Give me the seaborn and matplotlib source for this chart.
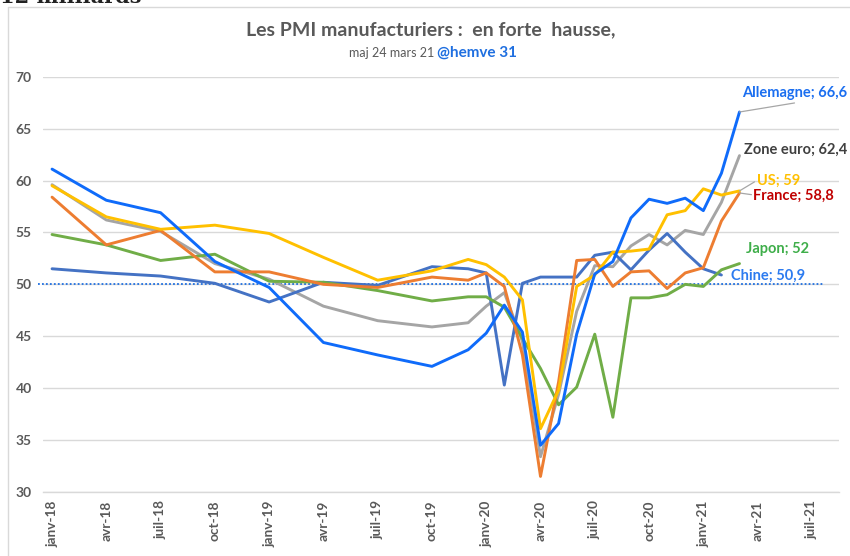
import matplotlib
matplotlib.use("Agg")
import matplotlib.pyplot as plt
import seaborn as sns
import pandas as pd
import numpy as np

# ---------------- data ----------------
dates = ["2018-01", "2018-04", "2018-07", "2018-10", "2019-01", "2019-04", "2019-07",
         "2019-10", "2019-12", "2020-01", "2020-02", "2020-03", "2020-04", "2020-05",
         "2020-06", "2020-07", "2020-08", "2020-09", "2020-10", "2020-11", "2020-12",
         "2021-01", "2021-02", "2021-03"]

allemagne = [61.1, 58.1, 56.9, 52.2, 49.7, 44.4, 43.2, 42.1, 43.7, 45.3, 48.0, 45.4,
             34.5, 36.6, 45.2, 51.0, 52.2, 56.4, 58.2, 57.8, 58.3, 57.1, 60.7, 66.6]
zone_euro = [59.6, 56.2, 55.1, 52.0, 50.5, 47.9, 46.5, 45.9, 46.3, 47.9, 49.2, 44.5,
             33.4, 39.4, 47.4, 51.8, 51.7, 53.7, 54.8, 53.8, 55.2, 54.8, 57.9, 62.4]
us = [59.5, 56.5, 55.3, 55.7, 54.9, 52.6, 50.4, 51.3, 52.4, 51.9, 50.7, 48.5,
      36.1, 39.8, 49.8, 50.9, 53.1, 53.2, 53.4, 56.7, 57.1, 59.2, 58.6, 59.0]
france = [58.4, 53.8, 55.2, 51.2, 51.2, 50.0, 49.7, 50.7, 50.4, 51.1, 49.8, 43.2,
          31.5, 40.6, 52.3, 52.4, 49.8, 51.2, 51.3, 49.6, 51.1, 51.6, 56.1, 58.8]
japon = [54.8, 53.8, 52.3, 52.9, 50.3, 50.2, 49.4, 48.4, 48.8, 48.8, 47.8, 44.8,
         41.9, 38.4, 40.1, 45.2, 37.2, 48.7, 48.7, 49.0, 50.0, 49.8, 51.4, 52.0]
chine = [51.5, 51.1, 50.8, 50.1, 48.3, 50.2, 49.9, 51.7, 51.5, 51.1, 40.3, 50.1,
         50.7, 50.7, 50.7, 52.8, 53.1, 51.4, 53.3, 54.9, 53.1, 51.5, 50.9, None]

series_names = ["Zone euro", "Chine", "Japon", "France", "US", "Allemagne"]
series_values = [zone_euro, chine, japon, france, us, allemagne]
end_labels = ["Zone euro; 62,4", "Chine; 50,9", "Japon; 52", "France; 58,8",
              "US; 59", "Allemagne; 66,6"]

tick_dates = ["2018-01", "2018-04", "2018-07", "2018-10", "2019-01", "2019-04",
              "2019-07", "2019-10", "2020-01", "2020-04", "2020-07", "2020-10",
              "2021-01", "2021-04", "2021-07"]
tick_labels = ["janv-18", "avr-18", "juil-18", "oct-18", "janv-19", "avr-19",
               "juil-19", "oct-19", "janv-20", "avr-20", "juil-20", "oct-20",
               "janv-21", "avr-21", "juil-21"]
ref_level = 50

# ---------------- styling ----------------
line_colors = {"Allemagne": "#0F6BFA", "Zone euro": "#A5A5A5", "US": "#FFC000",
               "France": "#ED7D31", "Japon": "#70AD47", "Chine": "#4472C4"}
label_colors = {"Allemagne": "#1A6EF0", "Zone euro": "#404040", "US": "#FFC000",
                "France": "#C00000", "Japon": "#3FAE4A", "Chine": "#2C7BF0"}
# label offsets (points) relative to last point, horizontal alignment
label_pos = {"Allemagne": ((77.8, 13.7), "right"),
             "Zone euro": ((77.8, 4.3), "right"),
             "US": ((12.5, 7.2), "left"),
             "France": ((10.0, -1.9), "left"),
             "Japon": ((5.0, 10.8), "left"),
             "Chine": ((7.2, -0.5), "left")}
leaders = {"Allemagne": (39.6, 6.5), "US": (10.8, 6.5), "France": (8.6, -1.2)}

base = pd.Period("2018-01", freq="M")


def to_m(d):
    return (pd.Period(d, freq="M") - base).n


rows = []
for name, vals in zip(series_names, series_values):
    for d, v in zip(dates, vals):
        if v is not None:
            rows.append({"m": to_m(d), "pmi": v, "serie": name})
df = pd.DataFrame(rows)

sns.set_style("white")
plt.rcParams["font.family"] = ["Lato", "DejaVu Sans"]

fig = plt.figure(figsize=(8.5, 5.56), dpi=100)
ax = fig.add_axes([43 / 850, 1 - 492 / 556, (839 - 43) / 850, (492 - 76.7) / 556])

ax.set_xlim(-0.5, 43.5)
ax.set_ylim(30, 70)
ax.set_yticks(np.arange(30, 71, 5))
ax.yaxis.grid(True, color="#D9D9D9", lw=1.0)
ax.set_axisbelow(True)

ax.axhline(ref_level, xmin=-0.006, xmax=0.981, color="#1F6FE0", lw=1.3,
           ls=(0, (1, 1.2)), clip_on=False, zorder=2)

sns.lineplot(data=df, x="m", y="pmi", hue="serie", hue_order=series_names,
             palette=line_colors, linewidth=2.1, legend=False, sort=True,
             estimator=None, ax=ax, zorder=3)

for name, vals, lab in zip(series_names, series_values, end_labels):
    pairs = [(to_m(d), v) for d, v in zip(dates, vals) if v is not None]
    lx, ly = pairs[-1]
    (ox, oy), ha = label_pos[name]
    ax.annotate(lab, xy=(lx, ly), xytext=(ox, oy), textcoords="offset points",
                ha=ha, va="center", fontsize=10.5, fontweight="bold",
                color=label_colors[name], annotation_clip=False)
    if name in leaders:
        ax.annotate("", xy=(lx, ly), xytext=leaders[name], textcoords="offset points",
                    arrowprops=dict(arrowstyle="-", color="#A6A6A6", lw=0.9,
                                    shrinkA=0, shrinkB=0))

ax.set_xticks([to_m(d) for d in tick_dates])
ax.set_xticklabels(tick_labels, rotation=90, fontsize=9.8, fontweight="bold",
                   color="#595959")
ax.set_xticks([to_m(d) - 0.5 for d in tick_dates], minor=True)
ax.tick_params(axis="x", which="major", length=0, pad=6)
ax.tick_params(axis="x", which="minor", length=4, color="#D0D0D0", width=1)
ax.tick_params(axis="y", length=0, pad=8, labelsize=10, labelcolor="#595959")
for t in ax.get_yticklabels():
    t.set_fontweight("bold")
ax.set_xlabel("")
ax.set_ylabel("")

for s in ["top", "right", "left"]:
    ax.spines[s].set_visible(False)
ax.spines["bottom"].set_color("#D9D9D9")
ax.spines["bottom"].set_linewidth(1.0)

# chart frame
fig.add_artist(plt.Line2D([8 / 850, 8 / 850], [0, 1 - 7 / 556], color="#D9D9D9", lw=1))
fig.add_artist(plt.Line2D([8 / 850, 1], [1 - 7 / 556, 1 - 7 / 556], color="#D9D9D9", lw=1))

# cut-off heading fragment at top-left (only its lower edge is visible)
fig.text(0.0, 1 - 3 / 556, "12 milliards", fontsize=15, fontweight="bold",
         family="DejaVu Serif", color="#222222", va="baseline", ha="left")

fig.text(431 / 850, 1 - 30 / 556, "Les PMI manufacturiers :  en forte  hausse,",
         ha="center", va="center", fontsize=14, fontweight="bold", color="#595959")
fig.text(434 / 850, 1 - 53 / 556, "maj 24 mars 21", ha="right", va="center",
         fontsize=9, color="#595959")
fig.text(437 / 850, 1 - 53 / 556, "@hemve 31", ha="left", va="center",
         fontsize=11, fontweight="bold", color="#1F6FE0")

fig.savefig("out.png", dpi=100)
